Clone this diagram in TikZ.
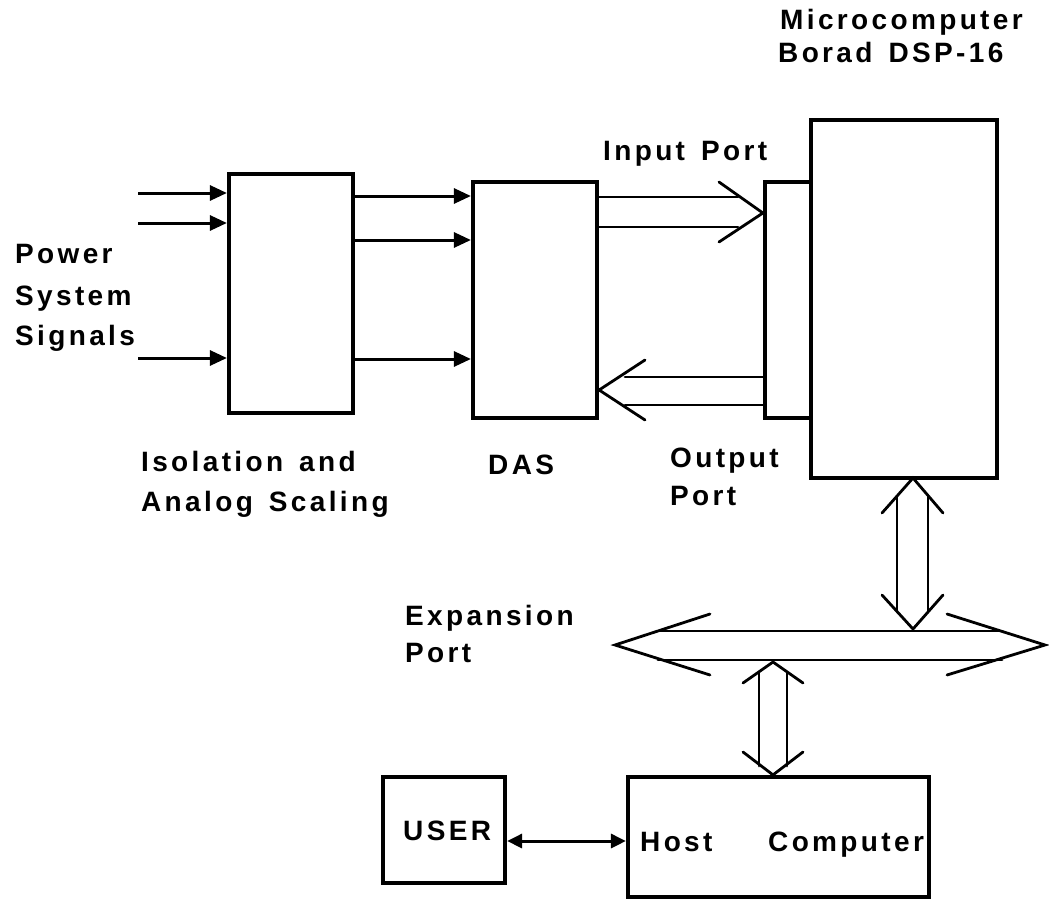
\documentclass[tikz,border=0pt]{standalone}
\usepackage{fontspec}
\newfontfamily\lblfont[LetterSpace=12,UprightFont={* Bold}]{Liberation Sans}
\usetikzlibrary{arrows.meta}
\begin{document}
\begin{tikzpicture}[x=1pt,y=-1pt,
  box/.style={draw,line width=4.2pt,inner sep=0pt},
  sig/.style={line width=3pt,-{Triangle[length=17pt,width=15pt]}},
  sigb/.style={line width=3pt,{Triangle[length=15pt,width=14pt]}-{Triangle[length=15pt,width=14pt]}},
  wide/.style={line width=2.8pt,line cap=round,line join=miter},
  lbl/.style={font=\lblfont\fontsize{28}{32}\selectfont,anchor=base west,inner sep=0pt}]
\useasboundingbox (0,0) rectangle (1049,899);

% boxes
\node[box,minimum width=124pt,minimum height=239pt] (iso) at (291,293.5) {};
\node[box,minimum width=124pt,minimum height=236pt] (das) at (535,300) {};
\node[box,minimum width=46pt,minimum height=236pt] (inport) at (788,300) {};
\node[box,minimum width=186pt,minimum height=358pt] (micro) at (904,299) {};
\node[box,minimum width=122pt,minimum height=106pt] (user) at (444,830) {};
\node[box,minimum width=301pt,minimum height=120pt] (host) at (778.5,837) {};

% input signals
\coordinate (s1) at (138,193);
\coordinate (s2) at (138,223);
\coordinate (s3) at (138,358);
\draw[sig] (s1) -- (s1 -| iso.west);
\draw[sig] (s2) -- (s2 -| iso.west);
\draw[sig] (s3) -- (s3 -| iso.west);

% iso -> das
\draw[sig] (iso.east |- 0,196) -- (das.west |- 0,196);
\draw[sig] (iso.east |- 0,240) -- (das.west |- 0,240);
\draw[sig] (iso.east |- 0,359) -- (das.west |- 0,359);

% input port (wide arrow das -> inport)
\coordinate (ia1) at (738,197);
\coordinate (ia2) at (738,227);
\draw[wide] (das.east |- 0,197) -- (ia1);
\draw[wide] (das.east |- 0,227) -- (ia2);
\coordinate (iu) at (719,182);
\coordinate (il) at (719,242);
\draw[wide] (iu) -- (inport.west |- 0,213) -- (il);

% output port (wide arrow inport -> das)
\coordinate (oa1) at (625,377);
\coordinate (oa2) at (625,405);
\draw[wide] (inport.west |- 0,377) -- (oa1);
\draw[wide] (inport.west |- 0,405) -- (oa2);
\coordinate (ou) at (645,360);
\coordinate (ol) at (645,420);
\draw[wide] (ou) -- (das.east |- 0,390) -- (ol);

% micro <-> bus
\coordinate (mt) at (913,478);
\coordinate (mb) at (913,629);
\draw[wide] (882,513) -- (mt) -- (943,513);
\draw[wide] (897,497) -- (897,612);
\draw[wide] (928,497) -- (928,612);
\draw[wide] (882,595) -- (mb) -- (943,595);

% expansion bus
\coordinate (bl) at (615,645);
\coordinate (br) at (1045,645);
\draw[wide] (710,614) -- (bl) -- (710,675);
\draw[wide] (947,614) -- (br) -- (947,675);
\draw[wide] (658,631) -- (1002,631);
\draw[wide] (658,660) -- (1002,660);

% bus <-> host
\coordinate (ht) at (773,662);
\draw[wide] (743,683) -- (ht) -- (803,683);
\draw[wide] (759,672) -- (759,766);
\draw[wide] (787,672) -- (787,766);
\draw[wide] (743,752) -- (host.north -| 773,0) -- (803,752);

% user <-> host
\draw[sigb] (user.east |- 0,841) -- (host.west |- 0,841);

% labels
\node[lbl] (t1) at (780,30) {Microcomputer};
\node[lbl] (t2) at (778,63) {Borad\hspace{16pt}DSP-16};
\node[lbl] (t3) at (603,160) {Input\hspace{16pt}Port};
\node[lbl] (t4) at (15,263) {Power};
\node[lbl] (t5) at (15,305) {System};
\node[lbl] (t6) at (15,345) {Signals};
\node[lbl] (t7) at (141,471) {Isolation\hspace{16pt}and};
\node[lbl] (t8) at (141,511) {Analog\hspace{16pt}Scaling};
\node[lbl] (t9) at (488,474) {DAS};
\node[lbl] (t10) at (670,467) {Output};
\node[lbl] (t11) at (670,505) {Port};
\node[lbl] (t12) at (405,625) {Expansion};
\node[lbl] (t13) at (405,662) {Port};
\node[lbl] (t14) at (403,840) {USER};
\node[lbl] (t15) at (640,851) {Host};
\node[lbl] (t16) at (768,851) {Computer};
\end{tikzpicture}
\end{document}
